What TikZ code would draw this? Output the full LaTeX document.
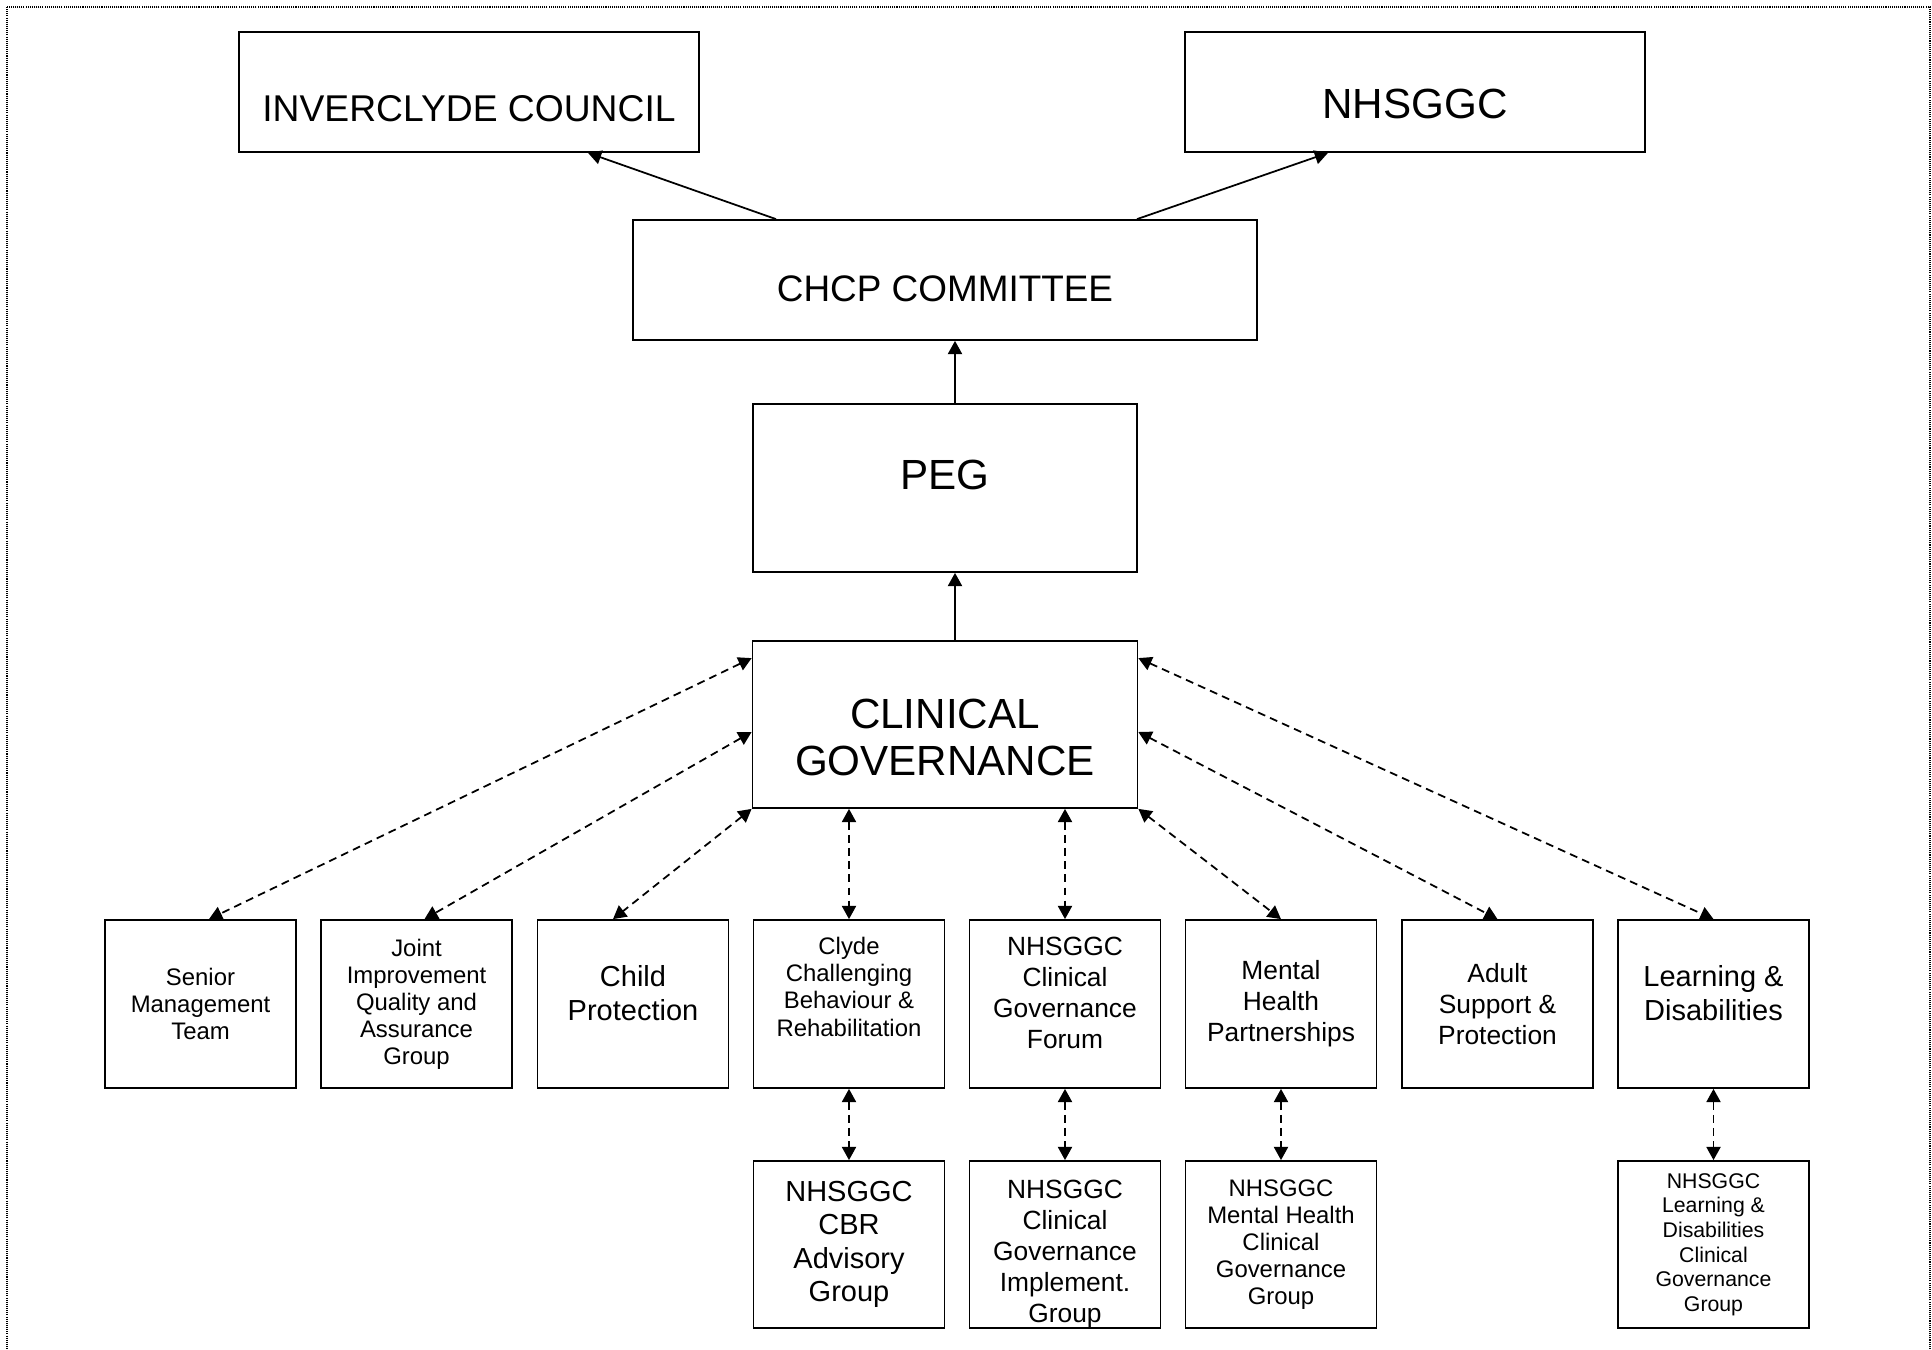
\documentclass[tikz,border=0pt]{standalone}
\usepackage{fontspec}
\setmainfont{Liberation Sans}
\usetikzlibrary{arrows.meta}

\begin{document}
\begin{tikzpicture}[
    frame/.style={draw=black, line width=0.6pt, dash pattern=on 0.6pt off 0.6pt},
    top/.style={rectangle, draw=black, line width=1pt, minimum width=9.2cm, minimum height=2.4cm, align=center, inner sep=2pt},
    unit/.style={rectangle, draw=black, line width=1pt, minimum width=3.82cm, minimum height=3.36cm, align=center, inner sep=2pt},
    fsmall/.style={font=\fontsize{13.6}{15.4}\selectfont},
    fmid/.style={font=\fontsize{15}{17.6}\selectfont},
    fbig/.style={font=\fontsize{16.5}{19}\selectfont},
    ftiny/.style={font=\fontsize{12.1}{14}\selectfont},
    arrow/.style={line width=1pt, -{Triangle[length=7.5pt, width=8pt]}},
    link/.style={line width=1pt, dash pattern=on 4.5pt off 3pt, {Triangle[length=7.5pt, width=8pt]}-{Triangle[length=7.5pt, width=8pt]}}
]
    \useasboundingbox (0,0) rectangle (38.64,-27.0);
    \clip (0,0) rectangle (38.64,-27.0);
    \draw[frame] (0.14,-0.14) rectangle (38.60,-27.5);

    \node[top, font=\fontsize{21.2}{25}\selectfont, text height=33.6pt, text depth=0pt] (inv) at (9.38,-1.84) {INVERCLYDE COUNCIL};
    \node[top, font=\fontsize{24}{28}\selectfont, text height=30.5pt, text depth=0pt] (nhs) at (28.30,-1.84) {NHSGGC};
    \node[top, minimum width=12.48cm, font=\fontsize{21}{25}\selectfont, text height=24.3pt, text depth=0pt] (chcp) at (18.90,-5.60) {CHCP COMMITTEE};
    \node[unit, minimum width=7.68cm, font=\fontsize{24}{28}\selectfont, text height=17.5pt, text depth=15.4pt] (peg) at (18.90,-9.76) {PEG};
    \node[unit, minimum width=7.70cm, minimum height=3.34cm, font=\fontsize{24}{26.7}\selectfont, text height=57.8pt, text depth=0pt] (cg) at (18.90,-14.49) {CLINICAL\\GOVERNANCE};

    \node[unit, fsmall] (smt) at (4.01,-20.08) {Senior\\Management\\Team};
    \node[unit, fsmall] (jiq) at (8.33,-20.08) {Joint\\Improvement\\Quality and\\Assurance\\Group};
    \node[unit, fbig, text depth=12.6pt] (cp) at (12.66,-20.08) {Child\\Protection};
    \node[unit, fsmall, text depth=19.6pt] (ccb) at (16.98,-20.08) {Clyde\\Challenging\\Behaviour \&\\Rehabilitation};
    \node[unit, fmid, text depth=12.6pt] (cgf) at (21.30,-20.08) {NHSGGC\\Clinical\\Governance\\Forum};
    \node[unit, fmid] (mhp) at (25.62,-20.08) {Mental\\Health\\Partnerships};
    \node[unit, fmid] (asp) at (29.95,-20.08) {Adult\\Support \&\\Protection};
    \node[unit, fbig, text depth=12.6pt] (lds) at (34.27,-20.08) {Learning \&\\Disabilities};

    \node[unit, fbig, minimum height=3.34cm] (cbr) at (16.98,-24.89) {NHSGGC\\CBR\\Advisory\\Group};
    \node[unit, fmid, minimum height=3.34cm, text height=88.3pt, text depth=0pt] (cgi) at (21.30,-24.89) {NHSGGC\\Clinical\\Governance\\Implement.\\Group};
    \node[unit, fsmall, minimum height=3.34cm] (mhg) at (25.62,-24.89) {NHSGGC\\Mental Health\\Clinical\\Governance\\Group};
    \node[unit, ftiny, minimum height=3.34cm] (ldg) at (34.27,-24.89) {NHSGGC\\Learning \&\\Disabilities\\Clinical\\Governance\\Group};

    \draw[arrow] ([xshift=-3.38cm]chcp.north) -- ([xshift=2.38cm]inv.south);
    \draw[arrow] ([xshift=3.84cm]chcp.north) -- ([xshift=-1.74cm]nhs.south);
    \draw[arrow] ([xshift=0.2cm]peg.north) -- ([xshift=0.2cm]chcp.south);
    \draw[arrow] ([xshift=0.2cm]cg.north) -- ([xshift=0.2cm]peg.south);

    \draw[link] ([yshift=-0.36cm]cg.north west) -- ([xshift=0.17cm]smt.north);
    \draw[link] ([yshift=-0.15cm]cg.west) -- ([xshift=0.16cm]jiq.north);
    \draw[link] (cg.south west) -- ([xshift=-0.4cm]cp.north);
    \draw[link] (cg.south -| ccb.north) -- (ccb.north);
    \draw[link] (cg.south -| cgf.north) -- (cgf.north);
    \draw[link] (cg.south east) -- (mhp.north);
    \draw[link] ([yshift=-0.15cm]cg.east) -- (asp.north);
    \draw[link] ([yshift=-0.36cm]cg.north east) -- (lds.north);

    \draw[link] (ccb.south) -- (cbr.north);
    \draw[link] (cgf.south) -- (cgi.north);
    \draw[link] (mhp.south) -- (mhg.north);
    \draw[link] (lds.south) -- (ldg.north);
\end{tikzpicture}
\end{document}
